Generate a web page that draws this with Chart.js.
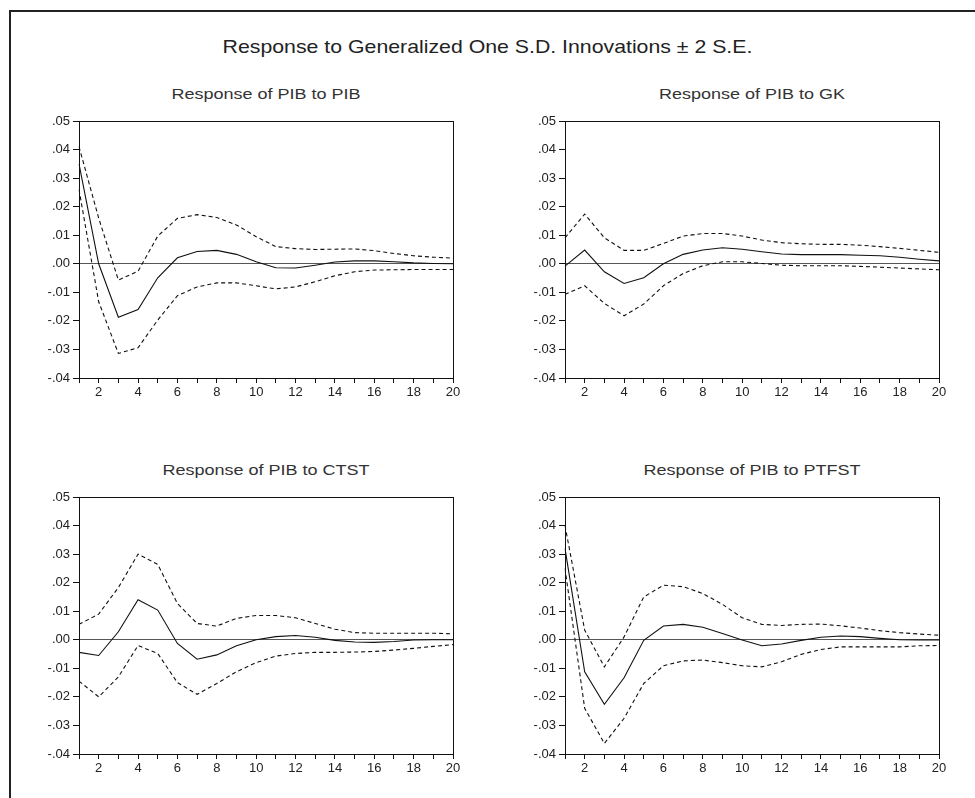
<!DOCTYPE html>
<html>
<head>
<meta charset="utf-8">
<script src="https://cdn.jsdelivr.net/npm/chart.js@4"></script>
<style>
    html, body { margin: 0; padding: 0; background: #fff; overflow: hidden; }
    body { width: 975px; height: 798px; position: relative; font-family: "Liberation Sans", Arial, sans-serif; }
    .frame { position: absolute; left: 9px; top: 10px; width: 1000px; height: 1000px; border-left: 2px solid #222; border-top: 2px solid #222; }
    .main-title { position: absolute; left: 0; width: 975px; top: 36px; text-align: center; font-size: 19px; color: #222; transform: scaleX(1.12); }
    .panel-title { position: absolute; width: 374px; text-align: center; font-size: 15px; color: #333; transform: scaleX(1.2); }
    canvas { position: absolute; }
</style>
</head>
<body>
<div class="frame"></div>
<div class="main-title">Response to Generalized One S.D. Innovations ± 2 S.E.</div>

<div class="panel-title" style="left:79px; top:85px;">Response of PIB to PIB</div>
<div class="panel-title" style="left:565px; top:85px;">Response of PIB to GK</div>
<div class="panel-title" style="left:79px; top:461px;">Response of PIB to CTST</div>
<div class="panel-title" style="left:565px; top:461px;">Response of PIB to PTFST</div>

<canvas id="c1" width="450" height="300" style="left:20px; top:108px;"></canvas>
<canvas id="c2" width="450" height="300" style="left:506px; top:108px;"></canvas>
<canvas id="c3" width="450" height="300" style="left:20px; top:484px;"></canvas>
<canvas id="c4" width="450" height="300" style="left:506px; top:484px;"></canvas>

<script>
// horizon (periods after the shock)
const periods = [1, 2, 3, 4, 5, 6, 7, 8, 9, 10, 11, 12, 13, 14, 15, 16, 17, 18, 19, 20];
const yTickValues = [-0.04, -0.03, -0.02, -0.01, 0, 0.01, 0.02, 0.03, 0.04, 0.05];

// PIB to PIB
const pibResp = [0.035, 0.000, -0.0187, -0.016, -0.0049, 0.0021, 0.0043, 0.0047, 0.0033, 0.0007, -0.0014, -0.0015, -0.0005, 0.0006, 0.0010, 0.0010, 0.0007, 0.0003, 0.0001, 0.0000];
const pibUpper = [0.041, 0.016, -0.0057, -0.0026, 0.0097, 0.0159, 0.0172, 0.0162, 0.0136, 0.0095, 0.0060, 0.0053, 0.0050, 0.0051, 0.0052, 0.0046, 0.0036, 0.0028, 0.0023, 0.0020];
const pibLower = [0.026, -0.0133, -0.0314, -0.0294, -0.0197, -0.0112, -0.0081, -0.0067, -0.0067, -0.0077, -0.0088, -0.0081, -0.0063, -0.0042, -0.0028, -0.0022, -0.0021, -0.0020, -0.0020, -0.0020];

// PIB to GK
const gkResp = [-0.0008, 0.0048, -0.0028, -0.0069, -0.0049, 0.0000, 0.0033, 0.0048, 0.0056, 0.0051, 0.0042, 0.0034, 0.0032, 0.0032, 0.0032, 0.0030, 0.0028, 0.0023, 0.0016, 0.0010];
const gkUpper = [0.0091, 0.0174, 0.0091, 0.0047, 0.0047, 0.0071, 0.0097, 0.0106, 0.0106, 0.0097, 0.0083, 0.0074, 0.0070, 0.0068, 0.0068, 0.0065, 0.0060, 0.0054, 0.0047, 0.0040];
const gkLower = [-0.0107, -0.0077, -0.0139, -0.0182, -0.0141, -0.0077, -0.0034, -0.0007, 0.0007, 0.0007, 0.0001, -0.0005, -0.0007, -0.0007, -0.0007, -0.0009, -0.0012, -0.0015, -0.0018, -0.0021];

// PIB to CTST
const ctstResp = [-0.0044, -0.0055, 0.0028, 0.0140, 0.0104, -0.0013, -0.0068, -0.0053, -0.0021, 0.0000, 0.0011, 0.0015, 0.0009, -0.0002, -0.0008, -0.0009, -0.0006, -0.0001, 0.0000, 0.0000];
const ctstUpper = [0.0054, 0.0090, 0.0183, 0.0300, 0.0264, 0.0127, 0.0057, 0.0048, 0.0075, 0.0085, 0.0085, 0.0077, 0.0057, 0.0037, 0.0025, 0.0023, 0.0023, 0.0023, 0.0023, 0.0021];
const ctstLower = [-0.0145, -0.0200, -0.0130, -0.0020, -0.0048, -0.0150, -0.0191, -0.0153, -0.0112, -0.0080, -0.0057, -0.0048, -0.0044, -0.0044, -0.0043, -0.0041, -0.0036, -0.0030, -0.0023, -0.0017];

// PIB to PTFST
const ptfstResp = [0.032, -0.0112, -0.0226, -0.0133, -0.0002, 0.0048, 0.0054, 0.0044, 0.0022, -0.0001, -0.0021, -0.0015, -0.0002, 0.0009, 0.0013, 0.0011, 0.0005, 0.0000, -0.0001, -0.0001];
const ptfstUpper = [0.040, 0.0034, -0.0095, 0.0010, 0.0150, 0.0191, 0.0186, 0.0162, 0.0124, 0.0077, 0.0054, 0.0050, 0.0054, 0.0055, 0.0049, 0.0041, 0.0032, 0.0025, 0.0020, 0.0016];
const ptfstLower = [0.025, -0.0240, -0.0363, -0.0275, -0.0153, -0.0091, -0.0074, -0.0071, -0.0080, -0.0091, -0.0095, -0.0077, -0.0051, -0.0034, -0.0025, -0.0025, -0.0025, -0.0025, -0.0021, -0.0020];

// closed box around the plot area (Chart.js only draws the axis sides)
const plotBox = {
    id: 'plotBox',
    afterDraw(chart) {
        const a = chart.chartArea;
        const ctx = chart.ctx;
        ctx.save();
        ctx.strokeStyle = '#111';
        ctx.lineWidth = 1;
        ctx.strokeRect(Math.round(a.left) + 0.5, Math.round(a.top) + 0.5, Math.round(a.right - a.left), Math.round(a.bottom - a.top));
        ctx.restore();
    }
};

function fmtTick(v) {
    const s = (Math.round(v * 100) / 100).toFixed(2);
    return s.replace('0.', '.');
}

function makePanel(id, resp, upper, lower) {
    const band = { borderColor: '#111', borderWidth: 1.1, borderDash: [4, 3], pointRadius: 0, tension: 0, fill: false };
    new Chart(document.getElementById(id), {
        type: 'line',
        data: {
            labels: periods,
            datasets: [
                { data: resp, borderColor: '#111', borderWidth: 1.1, pointRadius: 0, tension: 0, fill: false },
                Object.assign({ data: upper }, band),
                Object.assign({ data: lower }, band)
            ]
        },
        options: {
            responsive: false,
            animation: false,
            layout: { padding: { top: 13, right: 17, left: 0, bottom: 0 } },
            plugins: { legend: { display: false }, tooltip: { enabled: false } },
            scales: {
                x: {
                    type: 'category',
                    offset: false,
                    border: { display: false },
                    grid: { drawOnChartArea: false, drawTicks: true, tickLength: 5, tickColor: '#111' },
                    ticks: {
                        autoSkip: false, maxRotation: 0, padding: 2,
                        color: '#222', font: { family: 'Liberation Sans', size: 13 },
                        callback: (v, i) => (periods[i] % 2 === 0 ? String(periods[i]) : '')
                    },
                    afterFit: s => { s.height = 30; s.paddingLeft = 0; s.paddingRight = 0; }
                },
                y: {
                    min: -0.04, max: 0.05,
                    border: { display: false },
                    afterBuildTicks: s => { s.ticks = yTickValues.map(v => ({ value: v })); },
                    grid: {
                        drawTicks: true, tickLength: 6, tickColor: '#111',
                        color: c => (c.tick && Math.abs(c.tick.value) < 1e-9 ? '#555' : 'rgba(0,0,0,0)')
                    },
                    ticks: {
                        padding: 3, color: '#222', font: { family: 'Liberation Sans', size: 13 },
                        callback: v => fmtTick(v)
                    },
                    afterFit: s => { s.width = 59; s.paddingTop = 0; s.paddingBottom = 0; }
                }
            }
        },
        plugins: [plotBox]
    });
}

makePanel('c1', pibResp, pibUpper, pibLower);
makePanel('c2', gkResp, gkUpper, gkLower);
makePanel('c3', ctstResp, ctstUpper, ctstLower);
makePanel('c4', ptfstResp, ptfstUpper, ptfstLower);
</script>
</body>
</html>
